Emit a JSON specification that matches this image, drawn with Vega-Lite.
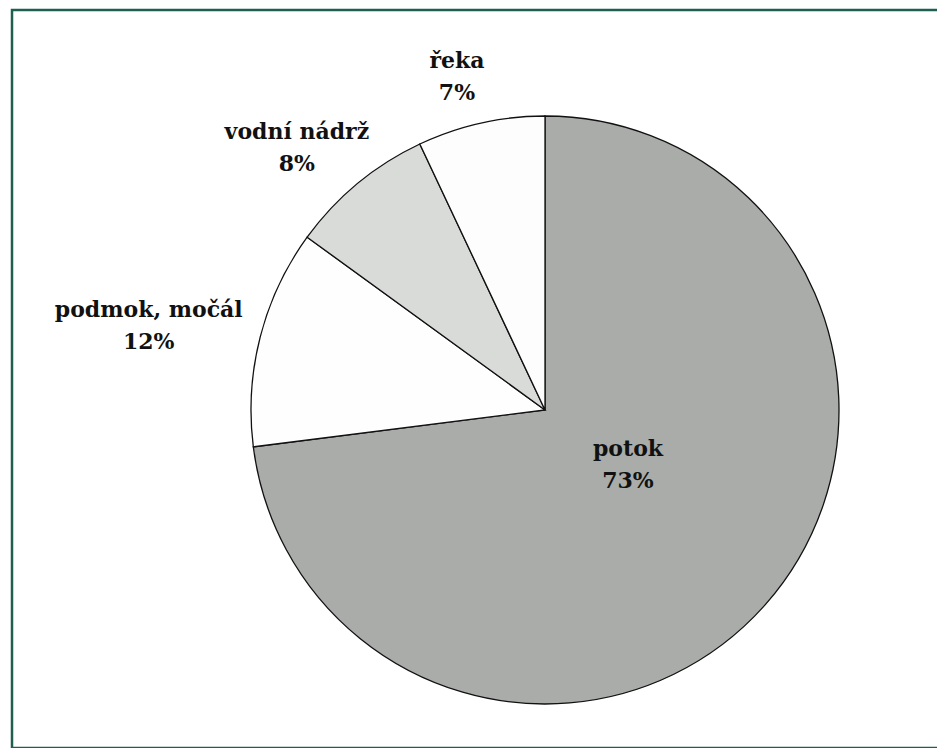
{
  "$schema": "https://vega.github.io/schema/vega-lite/v6.json",
  "width": 945,
  "height": 738,
  "autosize": {"type": "none"},
  "padding": {"left": 12, "top": 10, "right": 0, "bottom": 0},
  "background": "#ffffff",
  "view": {"stroke": "#1e5f50", "strokeWidth": 2.5, "fill": null},
  "data": {
    "values": [
      {"i": 1, "cat": "potok", "value": 73, "label": "potok\n73%"},
      {"i": 2, "cat": "podmok, močál", "value": 12, "label": "podmok, močál\n12%"},
      {"i": 3, "cat": "vodní nádrž", "value": 8, "label": "vodní nádrž\n8%"},
      {"i": 4, "cat": "řeka", "value": 7, "label": "řeka\n7%"}
    ]
  },
  "encoding": {
    "theta": {"field": "value", "type": "quantitative", "stack": true},
    "order": {"field": "i", "type": "quantitative"}
  },
  "layer": [
    {
      "mark": {"type": "arc", "outerRadius": 294, "x": 533, "y": 400, "stroke": "#111111", "strokeWidth": 1.3},
      "encoding": {
        "color": {
          "field": "cat",
          "type": "nominal",
          "scale": {
            "domain": ["potok", "podmok, močál", "vodní nádrž", "řeka"],
            "range": ["#a9aca9", "#fefefe", "#d9dbd9", "#fdfdfd"]
          },
          "legend": null
        }
      }
    },
    {
      "mark": {"type": "text", "x": 533, "y": 400, "radius": 100, "dx": 8, "dy": -27, "font": "DejaVu Serif", "fontWeight": "bold", "fontSize": 22, "lineHeight": 32, "lineBreak": "\n", "color": "#111111"},
      "encoding": {
        "text": {"field": "label"},
        "opacity": {"condition": {"test": "datum.cat === 'potok'", "value": 1}, "value": 0}
      }
    },
    {
      "mark": {"type": "text", "x": 533, "y": 400, "radius": 405, "dx": -4, "dy": 1, "font": "DejaVu Serif", "fontWeight": "bold", "fontSize": 22, "lineHeight": 32, "lineBreak": "\n", "color": "#111111"},
      "encoding": {
        "text": {"field": "label"},
        "opacity": {"condition": {"test": "datum.cat === 'podmok, močál'", "value": 1}, "value": 0}
      }
    },
    {
      "mark": {"type": "text", "x": 533, "y": 400, "radius": 361, "dx": -18, "dy": 0, "font": "DejaVu Serif", "fontWeight": "bold", "fontSize": 22, "lineHeight": 32, "lineBreak": "\n", "color": "#111111"},
      "encoding": {
        "text": {"field": "label"},
        "opacity": {"condition": {"test": "datum.cat === 'vodní nádrž'", "value": 1}, "value": 0}
      }
    },
    {
      "mark": {"type": "text", "x": 533, "y": 400, "radius": 344, "dx": -13, "dy": -13, "font": "DejaVu Serif", "fontWeight": "bold", "fontSize": 22, "lineHeight": 32, "lineBreak": "\n", "color": "#111111"},
      "encoding": {
        "text": {"field": "label"},
        "opacity": {"condition": {"test": "datum.cat === 'řeka'", "value": 1}, "value": 0}
      }
    }
  ]
}
